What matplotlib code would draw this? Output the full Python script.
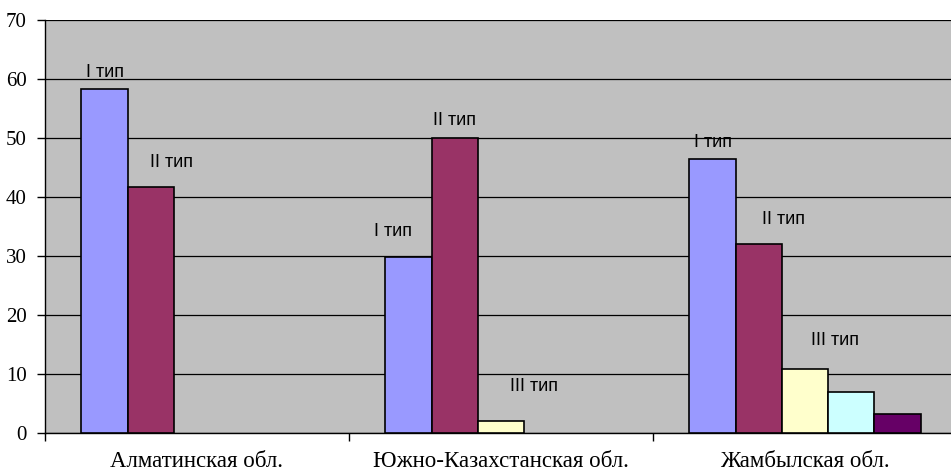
import numpy as np
import matplotlib.pyplot as plt
from matplotlib.ticker import MultipleLocator, FixedLocator

# regions and share of each type, %
regions = ["Алматинская обл.", "Южно-Казахстанская обл.", "Жамбылская обл."]
type_1 = [58.3, 29.8, 46.4]
type_2 = [41.7, 50.0, 32.1]
type_3 = [0.0, 2.0, 10.8]
type_4 = [0.0, 0.0, 7.0]
type_5 = [0.0, 0.0, 3.3]

series = [type_1, type_2, type_3, type_4, type_5]
colors = ["#9999ff", "#993366", "#ffffcc", "#ccffff", "#660066"]

# text labels: (region index, series index, text, x shift, y shift)
labels = [
    (0, 0, "I тип", 0.00, 2.8),
    (0, 1, "II тип", 0.067, 4.2),
    (1, 0, "I тип", -0.05, 4.3),
    (1, 1, "II тип", 0.00, 2.9),
    (1, 2, "III тип", 0.11, 5.8),
    (2, 0, "I тип", 0.00, 2.8),
    (2, 1, "II тип", 0.08, 4.1),
    (2, 2, "III тип", 0.10, 4.9),
]

fig = plt.figure(figsize=(9.51, 4.71), dpi=100)
ax = fig.add_axes([45 / 951, 38 / 471, 912 / 951, 413 / 471])
ax.set_facecolor("#c0c0c0")

# five slots per region, gap at both sides
bar_w = 0.152
pad = (1 - 5 * bar_w) / 2
x0 = np.arange(len(regions))

for i, vals in enumerate(series):
    xs = x0 + pad + bar_w * (i + 0.5)
    for x, v in zip(xs, vals):
        if v > 0:
            ax.bar(x, v, width=bar_w, color=colors[i], edgecolor="black",
                   linewidth=1.2, zorder=3)

for r, s, txt, dx, dy in labels:
    x = r + pad + bar_w * (s + 0.5) + dx
    ax.text(x, series[s][r] + dy, txt, ha="center", va="center",
            fontsize=13, family="Liberation Sans", zorder=4)

ax.set_xlim(0, 3)
ax.set_ylim(0, 70)
ax.yaxis.set_major_locator(MultipleLocator(10))
ax.grid(axis="y", color="black", linewidth=0.9, zorder=1)
ax.set_axisbelow(True)

# category boundaries as ticks, names centred between them
ax.xaxis.set_major_locator(FixedLocator([0, 1, 2, 3]))
ax.set_xticklabels([])
ax.xaxis.set_minor_locator(FixedLocator(x0 + 0.5))
ax.set_xticklabels(regions, minor=True, family="Liberation Serif", fontsize=16.5)
ax.tick_params(axis="x", which="major", length=6, width=1, direction="out")
ax.tick_params(axis="x", which="minor", length=0, pad=13)
ax.tick_params(axis="y", length=6, width=1, direction="out", pad=7)
for lab in ax.get_yticklabels():
    lab.set_family("Liberation Serif")
    lab.set_fontsize(15)

for side in ["top", "right"]:
    ax.spines[side].set_visible(False)
ax.spines["left"].set_linewidth(1)
ax.spines["bottom"].set_linewidth(1)

fig.savefig("out.png", dpi=100)
